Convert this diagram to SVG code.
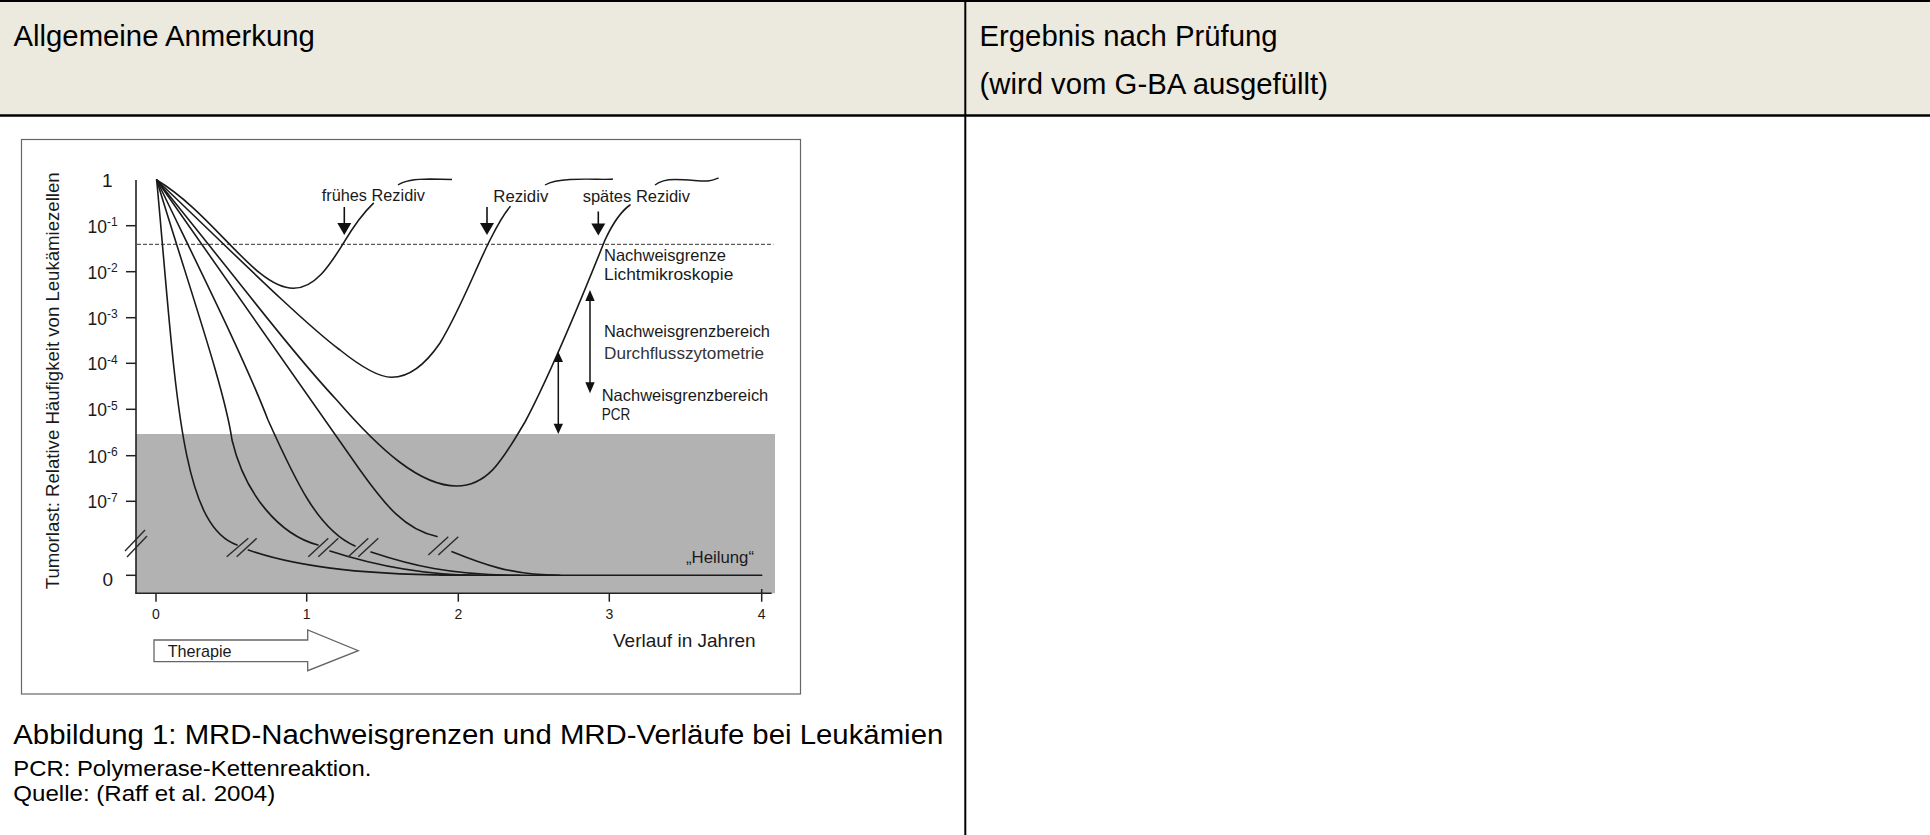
<svg xmlns="http://www.w3.org/2000/svg" width="1930" height="835" viewBox="0 0 1930 835">
<defs>
<style>
.t{font-family:"Liberation Sans",Arial,sans-serif;fill:#000}
.c{font-family:"Liberation Sans",Arial,sans-serif;fill:#1a1a1a}
.cv{fill:none;stroke:#1a1a1a;stroke-width:1.6;stroke-linecap:round}
.br{fill:none;stroke:#2a2a2a;stroke-width:1.4}
.ax{fill:none;stroke:#222;stroke-width:1.6}
.ar{fill:#111;stroke:none}
.sup{font-size:12px}
</style>
</defs>
<rect x="0" y="0" width="1930" height="835" fill="#fff"/>
<g id="table">
  <rect x="0" y="2" width="1930" height="112.5" fill="#ECE9DF"/>
  <line x1="0" y1="1" x2="1930" y2="1" stroke="#000" stroke-width="2"/>
  <line x1="0" y1="115.5" x2="1930" y2="115.5" stroke="#000" stroke-width="2.5"/>
  <line x1="965.3" y1="0" x2="965.3" y2="835" stroke="#000" stroke-width="2"/>
</g>
<g id="header-left">
  <text class="t" x="13.5" y="45.5" font-size="29.3">Allgemeine Anmerkung</text>
</g>
<g id="header-right">
  <text class="t" x="979.5" y="45.5" font-size="29.3">Ergebnis nach Prüfung</text>
  <text class="t" x="979.5" y="93.5" font-size="29.3">(wird vom G-BA ausgefüllt)</text>
</g>
<g id="figure">
  <rect x="21.5" y="139.5" width="779" height="554.5" fill="#fff" stroke="#666" stroke-width="1.2"/>
  <rect id="pcr-zone" x="136" y="434" width="639" height="159.3" fill="#B2B2B2"/>
  <line x1="137" y1="244.3" x2="773.3" y2="244.3" stroke="#333" stroke-width="1" stroke-dasharray="4 2"/>
  <g id="axes">
    <line class="ax" x1="136" y1="180" x2="136" y2="593.3"/>
    <line class="ax" x1="135.2" y1="593.3" x2="771.7" y2="593.3"/>
    <g stroke="#222" stroke-width="1.5">
      <line x1="126" y1="225.7" x2="136" y2="225.7"/>
      <line x1="126" y1="271.7" x2="136" y2="271.7"/>
      <line x1="126" y1="317.7" x2="136" y2="317.7"/>
      <line x1="126" y1="363.3" x2="136" y2="363.3"/>
      <line x1="126" y1="409.3" x2="136" y2="409.3"/>
      <line x1="126" y1="455.7" x2="136" y2="455.7"/>
      <line x1="126" y1="501.3" x2="136" y2="501.3"/>
      <line x1="126" y1="575.3" x2="136" y2="575.3"/>
      <line x1="156" y1="593.3" x2="156" y2="601.7"/>
      <line x1="306.7" y1="593.3" x2="306.7" y2="601.7"/>
      <line x1="458.3" y1="593.3" x2="458.3" y2="601.7"/>
      <line x1="609.3" y1="593.3" x2="609.3" y2="601.7"/>
      <line x1="761.7" y1="589" x2="761.7" y2="601.7"/>
    </g>
    <line class="br" x1="125" y1="551" x2="145" y2="530"/>
    <line class="br" x1="127" y1="557" x2="147" y2="536"/>
    <g class="c" font-size="17.5">
      <text x="102" y="186.5" font-size="19">1</text>
      <text x="87.5" y="232.5">10<tspan class="sup" dy="-6.5">-1</tspan></text>
      <text x="87.5" y="278.5">10<tspan class="sup" dy="-6.5">-2</tspan></text>
      <text x="87.5" y="324.5">10<tspan class="sup" dy="-6.5">-3</tspan></text>
      <text x="87.5" y="370.1">10<tspan class="sup" dy="-6.5">-4</tspan></text>
      <text x="87.5" y="416.1">10<tspan class="sup" dy="-6.5">-5</tspan></text>
      <text x="87.5" y="462.5">10<tspan class="sup" dy="-6.5">-6</tspan></text>
      <text x="87.5" y="508.1">10<tspan class="sup" dy="-6.5">-7</tspan></text>
      <text x="102.5" y="585.5" font-size="19">0</text>
    </g>
    <g class="c" font-size="14" text-anchor="middle">
      <text x="156" y="619">0</text>
      <text x="306.7" y="619">1</text>
      <text x="458.3" y="619">2</text>
      <text x="609.3" y="619">3</text>
      <text x="761.7" y="619">4</text>
    </g>
    <text class="c" x="613" y="646.7" font-size="19">Verlauf in Jahren</text>
    <text class="c" font-size="18.6" text-anchor="middle" transform="translate(58.5,380.8) rotate(-90)">Tumorlast: Relative Häufigkeit von Leukämiezellen</text>
  </g>
  <g id="therapy-arrow">
    <polygon points="154,640 307.7,640 307.7,630 358.3,650.7 307.7,670.7 307.7,661.7 154,661.7" fill="#fff" stroke="#666" stroke-width="1.3"/>
    <text class="c" x="167.7" y="656.7" font-size="16.2">Therapie</text>
  </g>
  <g id="connectors">
    <path id="curve-early" class="cv" d="M156.7,180 C215,215 255,288.3 293.3,288.3 C315,288.3 330,265 343.3,243.3 C353,227 363,213 373.3,203.3"/>
    <path id="curve-relapse" class="cv" d="M156.7,180 C220,240 300,320 340,350 C365,370 380,377.3 391.7,377.3 C410,377.3 425,365 440,343 C460,310 475,270 490,240 C497,226 503,215 510,206.7"/>
    <path id="curve-late" class="cv" stroke-width="1.4" d="M156.7,180 C230,270 290,350 336.7,400 C380,450 420,486 456.7,486 C490,486 505,455 525,422 C550,375 585,290 605,240 C612,225 620,212 630,205"/>
    <path id="curve-cure1" class="cv" d="M156.7,180 C176,390 180,525 237,545"/>
    <path class="cv" d="M248.3,550 C300,568 370,575.3 470,575.3"/>
    <path id="curve-cure2" class="cv" d="M156.7,180 C190,290 225,390 232,440 C245,495 280,535 318,545"/>
    <path class="cv" d="M330,551 C370,564 420,575.3 480,575.3"/>
    <path id="curve-cure3" class="cv" d="M156.7,180 C200,270 245,360 268,420 C295,480 318,530 355,546"/>
    <path class="cv" d="M371,552 C410,565 450,575.3 520,575.3"/>
    <path id="curve-cure4" class="cv" d="M156.7,180 L360,470 C385,505 405,530 437,536.5"/>
    <path class="cv" d="M452,551.7 C480,563 510,575.3 560,575.3"/>
    <line class="cv" x1="440" y1="575.3" x2="761.7" y2="575.3"/>
    <g id="breaks">
      <line class="br" x1="226.7" y1="556.7" x2="248.3" y2="538.3"/>
      <line class="br" x1="236.7" y1="556.7" x2="256.7" y2="538.3"/>
      <line class="br" x1="308.3" y1="556.7" x2="328.3" y2="538.3"/>
      <line class="br" x1="318.3" y1="556.7" x2="338.3" y2="538.3"/>
      <line class="br" x1="348.3" y1="556.7" x2="368.3" y2="538.3"/>
      <line class="br" x1="358.3" y1="556.7" x2="378.3" y2="538.3"/>
      <line class="br" x1="428.3" y1="555" x2="448.3" y2="536.7"/>
      <line class="br" x1="438.3" y1="555" x2="458.3" y2="536.7"/>
    </g>
    <g id="overlines" fill="none" stroke="#1a1a1a" stroke-width="1.4">
      <path d="M398,185 C405,180 415,179 430,179 L452,179.5"/>
      <path d="M545,185 C552,181 560,180 570,179.5 C590,178.5 605,180 613,179"/>
      <path d="M655,185 C660,181 665,179.5 675,179.5 C690,179.5 700,181.5 708,181 C713,180.5 716,179 718.5,178"/>
    </g>
    <g id="relapse-arrows">
      <line x1="344.3" y1="207" x2="344.3" y2="224" stroke="#111" stroke-width="1.6"/>
      <polygon class="ar" points="337.3,223 351.3,223 344.3,235"/>
      <line x1="487" y1="207" x2="487" y2="224" stroke="#111" stroke-width="1.6"/>
      <polygon class="ar" points="480,223 494,223 487,235"/>
      <line x1="598.3" y1="211.5" x2="598.3" y2="224" stroke="#111" stroke-width="1.6"/>
      <polygon class="ar" points="591.3,223.5 605.3,223.5 598.3,235.5"/>
    </g>
    <g id="range-arrows">
      <line x1="590" y1="298" x2="590" y2="385" stroke="#111" stroke-width="1.5"/>
      <polygon class="ar" points="590,290 585.3,301 594.7,301"/>
      <polygon class="ar" points="590,393.3 585.3,382.3 594.7,382.3"/>
      <line x1="558.3" y1="359" x2="558.3" y2="426" stroke="#111" stroke-width="1.5"/>
      <polygon class="ar" points="558.3,351.7 553.6,362 563,362"/>
      <polygon class="ar" points="558.3,434 553.6,423.7 563,423.7"/>
    </g>
  </g>
  <g id="labels" class="c" font-size="16.5">
    <text x="321.7" y="201" textLength="103.3" lengthAdjust="spacingAndGlyphs">frühes Rezidiv</text>
    <text x="493.3" y="201.5" textLength="55" lengthAdjust="spacingAndGlyphs">Rezidiv</text>
    <text x="582.7" y="201.5" textLength="107.3" lengthAdjust="spacingAndGlyphs">spätes Rezidiv</text>
    <text x="604" y="260.7" textLength="122" lengthAdjust="spacingAndGlyphs">Nachweisgrenze</text>
    <text x="604" y="280.3" textLength="129.3" lengthAdjust="spacingAndGlyphs">Lichtmikroskopie</text>
    <text x="604" y="337.3" textLength="166" lengthAdjust="spacingAndGlyphs">Nachweisgrenzbereich</text>
    <text x="604" y="359.3" textLength="160" lengthAdjust="spacingAndGlyphs" fill="#333">Durchflusszytometrie</text>
    <text x="601.7" y="400.7" textLength="166.6" lengthAdjust="spacingAndGlyphs">Nachweisgrenzbereich</text>
    <text x="601.7" y="420" textLength="28.5" lengthAdjust="spacingAndGlyphs">PCR</text>
    <text x="686" y="563.3" font-size="16" textLength="68" lengthAdjust="spacingAndGlyphs">„Heilung“</text>
  </g>
</g>
<g id="caption">
  <text class="t" x="13.3" y="744" font-size="27" textLength="930" lengthAdjust="spacingAndGlyphs">Abbildung 1: MRD-Nachweisgrenzen und MRD-Verläufe bei Leukämien</text>
  <text class="t" x="13.3" y="776" font-size="22.5" textLength="358" lengthAdjust="spacingAndGlyphs">PCR: Polymerase-Kettenreaktion.</text>
  <text class="t" x="13.3" y="800.5" font-size="22.5" textLength="262" lengthAdjust="spacingAndGlyphs">Quelle: (Raff et al. 2004)</text>
</g>
</svg>
